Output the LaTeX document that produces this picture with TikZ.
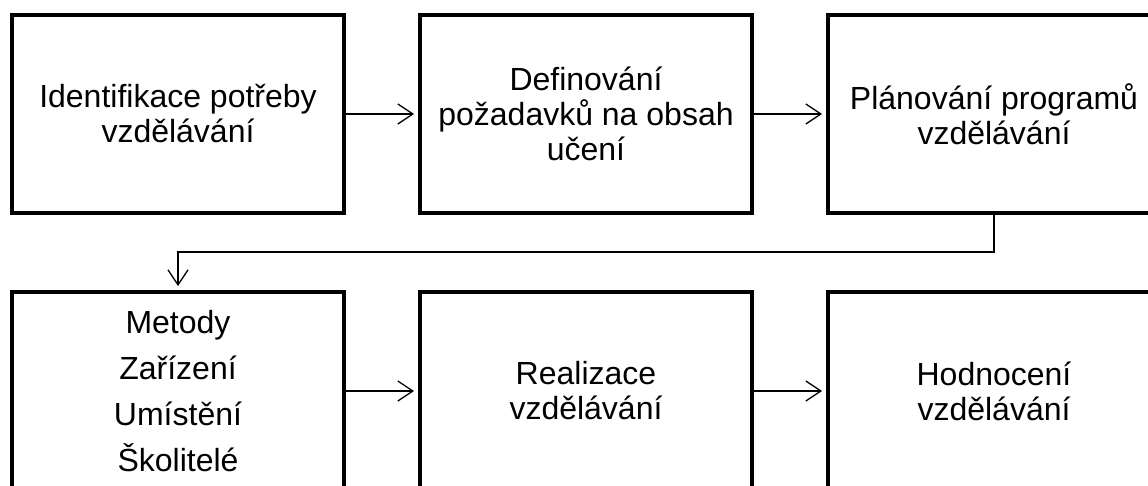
\documentclass[tikz,border=0pt]{standalone}
\usepackage{fontspec}
\setmainfont{Liberation Sans}
\usetikzlibrary{positioning,arrows.meta}

\tikzset{
  stagebox/.style={draw, line width=4.5pt, rectangle, outer sep=0pt,
    minimum width=332pt, minimum height=198pt, align=center,
    font=\fontsize{32}{35}\selectfont},
  flow/.style={line width=1.3pt, -{Straight Barb[length=15pt,width=20pt,line width=1.3pt]}, shorten >=6pt}
}

\begin{document}
\begin{tikzpicture}[x=1pt,y=1pt, node distance=76pt and 76pt]
\useasboundingbox (0,0) rectangle (1148,-485);
\node[stagebox] (ident) at (178,-114) {Identifikace potřeby\\vzdělávání};
\node[stagebox, right=of ident] (def) {Definování\\požadavků na obsah\\učení};
\node[stagebox, right=of def] (plan) {Plánování programů\\vzdělávání};
\node[stagebox, font=\fontsize{32}{46}\selectfont] (metody) at (178,-391) {Metody\\Zařízení\\Umístění\\Školitelé};
\node[stagebox, right=of metody] (real) {Realizace\\vzdělávání};
\node[stagebox, right=of real] (hodn) {Hodnocení\\vzdělávání};
\draw[flow] (ident) -- (def);
\draw[flow] (def) -- (plan);
\draw[flow] (plan.south) -- ++(0,-39) -| (metody.north);
\draw[flow] (metody) -- (real);
\draw[flow] (real) -- (hodn);
\end{tikzpicture}
\end{document}
